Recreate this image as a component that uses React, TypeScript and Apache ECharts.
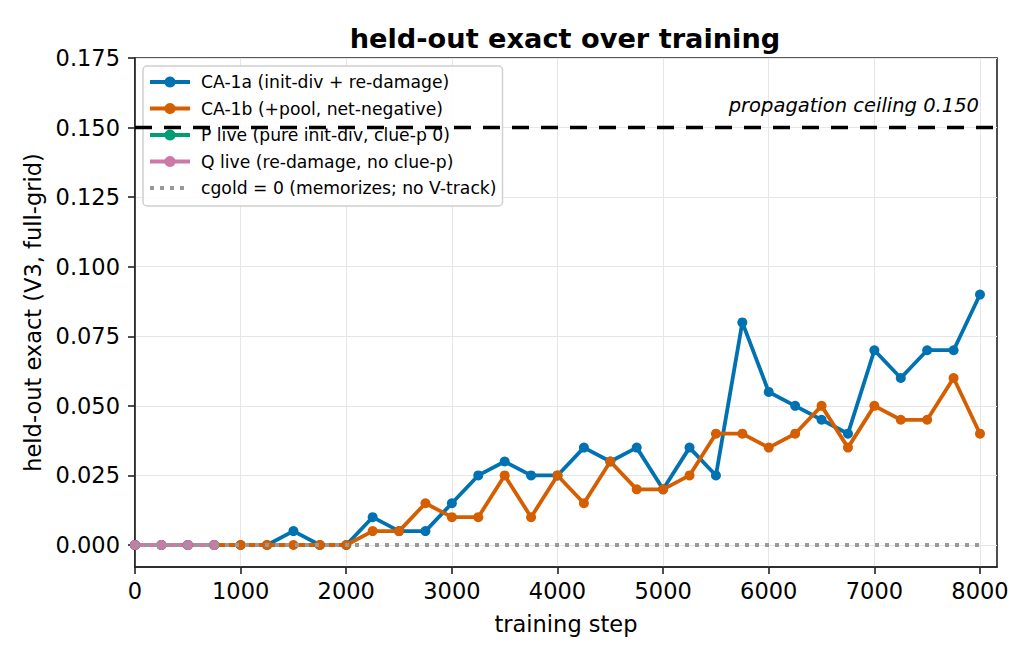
import React, { useEffect, useRef } from "react";
import * as echarts from "echarts";

// Training steps at which held-out exact accuracy was evaluated
const steps = [
  0, 250, 500, 750, 1000, 1250, 1500, 1750, 2000, 2250, 2500, 2750, 3000, 3250, 3500, 3750,
  4000, 4250, 4500, 4750, 5000, 5250, 5500, 5750, 6000, 6250, 6500, 6750, 7000, 7250, 7500,
  7750, 8000,
];

const ca1a = [
  0, 0, 0, 0, 0, 0, 0.005, 0, 0, 0.01, 0.005, 0.005, 0.015, 0.025, 0.03, 0.025,
  0.025, 0.035, 0.03, 0.035, 0.02, 0.035, 0.025, 0.08, 0.055, 0.05, 0.045, 0.04, 0.07, 0.06, 0.07,
  0.07, 0.09,
];

const ca1b = [
  0, 0, 0, 0, 0, 0, 0, 0, 0, 0.005, 0.005, 0.015, 0.01, 0.01, 0.025, 0.01,
  0.025, 0.015, 0.03, 0.02, 0.02, 0.025, 0.04, 0.04, 0.035, 0.04, 0.05, 0.035, 0.05, 0.045, 0.045,
  0.06, 0.04,
];

// Short runs only logged for the first few evaluations
const liveSteps = [0, 250, 500, 750];
const pLive = [0, 0, 0, 0];
const qLive = [0, 0, 0, 0];

const cgoldSteps = [0, 8000];
const cgold = [0, 0];

const ceiling = 0.15;

const xTicks = [0, 1000, 2000, 3000, 4000, 5000, 6000, 7000, 8000];
const yTicks = [0, 0.025, 0.05, 0.075, 0.1, 0.125, 0.15, 0.175];

const names = [
  "CA-1a (init-div + re-damage)",
  "CA-1b (+pool, net-negative)",
  "P live (pure init-div, clue-p 0)",
  "Q live (re-damage, no clue-p)",
  "cgold = 0 (memorizes; no V-track)",
];
const colors = ["#0072B2", "#D55E00", "#009E73", "#CC79A7", "#999999"];

const FONT = "DejaVu Sans";
const TICK_FONT = 22.5;
const LINE_W = 3.8;
const DOTS: number[] = [4, 6];

const zip = (xs: number[], ys: number[]) => xs.map((x, i) => [x, ys[i]]);

export default function App() {
  const ref = useRef<HTMLDivElement>(null);

  useEffect(() => {
    if (!ref.current) return;
    const chart = echarts.init(ref.current, null, { renderer: "svg" });

    const lineSeries = (i: number, data: number[][]) => ({
      name: names[i],
      type: "line",
      data,
      symbol: "circle",
      symbolSize: 10,
      showSymbol: true,
      color: colors[i],
      lineStyle: { color: colors[i], width: LINE_W },
      itemStyle: { color: colors[i] },
      emphasis: { disabled: true },
    });

    chart.setOption({
      animation: false,
      backgroundColor: "#ffffff",
      textStyle: { fontFamily: FONT },
      title: {
        text: "held-out exact over training",
        left: 560,
        textAlign: "center",
        top: 20,
        textStyle: { fontFamily: FONT, fontSize: 27.2, fontWeight: "bold", color: "#000" },
      },
      grid: {
        left: 135,
        right: 38,
        top: 58,
        bottom: 93,
        show: true,
        borderColor: "#222",
        borderWidth: 1.6,
        backgroundColor: "transparent",
      },
      legend: {
        left: 143,
        top: 66,
        orient: "vertical",
        selectedMode: false,
        backgroundColor: "rgba(255,255,255,0.85)",
        borderColor: "#d0d0d0",
        borderWidth: 1.5,
        borderRadius: 4,
        padding: [6, 6, 8, 5],
        itemWidth: 40,
        itemHeight: 14,
        itemGap: 6.5,
        textStyle: {
          fontFamily: FONT,
          fontSize: 17.2,
          color: "#000",
          lineHeight: 20,
          padding: [0, 0, 0, 6],
        },
        data: names.map((name, i) =>
          i === 4
            ? {
                name,
                itemStyle: { opacity: 0 },
                lineStyle: { color: colors[i], width: 4, type: DOTS },
              }
            : { name, lineStyle: { color: colors[i], width: 4 } }
        ),
      },
      xAxis: {
        type: "value",
        min: 0,
        max: 8161,
        name: "training step",
        nameLocation: "middle",
        nameGap: 45,
        nameTextStyle: { fontFamily: FONT, fontSize: TICK_FONT, color: "#000" },
        axisLine: { show: true, onZero: false, lineStyle: { color: "#222", width: 1.6 } },
        axisTick: {
          show: true,
          customValues: xTicks,
          length: 7,
          lineStyle: { color: "#222", width: 1.6 },
        },
        axisLabel: {
          customValues: xTicks,
          margin: 12,
          fontFamily: FONT,
          fontSize: TICK_FONT,
          color: "#000",
          formatter: (v: number) => String(v),
        },
        splitLine: { show: true, lineStyle: { color: "#e6e6e6", width: 1 } },
      },
      yAxis: {
        type: "value",
        min: -0.0079,
        max: 0.175,
        name: "held-out exact (V3, full-grid)",
        nameLocation: "middle",
        nameGap: 88,
        nameTextStyle: { fontFamily: FONT, fontSize: TICK_FONT, color: "#000" },
        axisLine: { show: true, onZero: false, lineStyle: { color: "#222", width: 1.6 } },
        axisTick: {
          show: true,
          customValues: yTicks,
          length: 7,
          lineStyle: { color: "#222", width: 1.6 },
        },
        axisLabel: {
          customValues: yTicks,
          margin: 15,
          fontFamily: FONT,
          fontSize: TICK_FONT,
          color: "#000",
          formatter: (v: number) => v.toFixed(3),
        },
        splitLine: { show: true, lineStyle: { color: "#e6e6e6", width: 1 } },
      },
      series: [
        {
          ...lineSeries(0, zip(steps, ca1a)),
          markLine: {
            silent: true,
            symbol: "none",
            label: { show: false },
            lineStyle: { color: "#000", type: [17, 12], width: 3.4 },
            data: [{ yAxis: ceiling }],
          },
          markPoint: {
            silent: true,
            symbol: "circle",
            symbolSize: 0,
            data: [{ coord: [8000, ceiling] }],
            label: {
              show: true,
              position: [-1, -22],
              align: "right",
              verticalAlign: "middle",
              formatter: `propagation ceiling ${ceiling.toFixed(3)}`,
              fontFamily: FONT,
              fontStyle: "italic",
              fontSize: 19.5,
              color: "#000",
            },
          },
        },
        lineSeries(1, zip(steps, ca1b)),
        lineSeries(2, zip(liveSteps, pLive)),
        lineSeries(3, zip(liveSteps, qLive)),
        {
          name: names[4],
          type: "line",
          data: zip(cgoldSteps, cgold),
          symbol: "none",
          color: colors[4],
          itemStyle: { color: colors[4] },
          lineStyle: { color: colors[4], width: 4, type: DOTS },
          emphasis: { disabled: true },
          z: 5,
        },
      ],
    });

    return () => chart.dispose();
  }, []);

  return (
    <div
      ref={ref}
      style={{ position: "fixed", left: 0, top: 0, width: 1035, height: 660 }}
    />
  );
}
